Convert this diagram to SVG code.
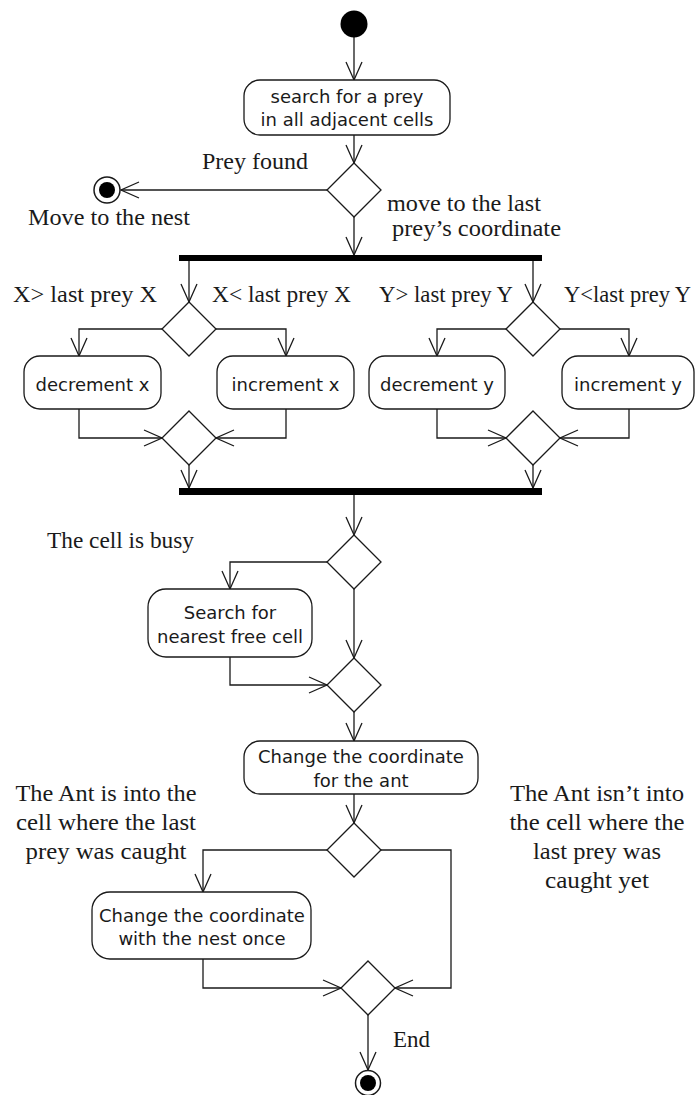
<svg xmlns="http://www.w3.org/2000/svg" width="696" height="1095" viewBox="0 0 696 1095">
  <style>
    .act { fill: #fff; stroke: #1a1a1a; stroke-width: 1.3; }
    .dec { fill: #fff; stroke: #1a1a1a; stroke-width: 1.3; }
    .bar { fill: #000; }
    .lbl { font-family: "DejaVu Sans", "Liberation Sans", sans-serif; font-size: 18px; fill: #1a1a1a; text-anchor: middle; }
    .note { font-family: "Liberation Serif", "DejaVu Serif", serif; font-size: 24px; fill: #1a1a1a; }
    .mid { text-anchor: middle; }
    .edge { fill: none; stroke: #1a1a1a; stroke-width: 1.3; marker-end: url(#open); }
  </style>
  <defs>
    <marker id="open" viewBox="-20 -10 22 20" refX="0" refY="0" markerWidth="22" markerHeight="20" markerUnits="userSpaceOnUse" orient="auto">
      <path d="M -18 -8 L 0 0 L -18 8" fill="none" stroke="#1a1a1a" stroke-width="1.3"/>
    </marker>
  </defs>
  <rect width="696" height="1095" fill="#fff"/>

  <!-- connectors -->
  <g id="edges">
    <path class="edge" d="M 354 37 L 354 80"/>
    <path class="edge" d="M 354 135 L 354 163"/>
    <path class="edge" d="M 327 190 L 121 190"/>
    <path class="edge" d="M 354 217 L 354 255"/>
    <!-- X branch -->
    <path class="edge" d="M 189 261 L 189 302"/>
    <path class="edge" d="M 162 329 L 79 329 L 79 356"/>
    <path class="edge" d="M 216 329 L 286 329 L 286 356"/>
    <path class="edge" d="M 79 409 L 79 438 L 162 438"/>
    <path class="edge" d="M 286 409 L 286 438 L 216 438"/>
    <path class="edge" d="M 189 465 L 189 488"/>
    <!-- Y branch -->
    <path class="edge" d="M 533 261 L 533 302"/>
    <path class="edge" d="M 506 329 L 437 329 L 437 356"/>
    <path class="edge" d="M 560 329 L 629 329 L 629 356"/>
    <path class="edge" d="M 437 409 L 437 438 L 506 438"/>
    <path class="edge" d="M 629 409 L 629 438 L 560 438"/>
    <path class="edge" d="M 533 465 L 533 488"/>
    <!-- busy cell check -->
    <path class="edge" d="M 354 495 L 354 535"/>
    <path class="edge" d="M 327 562 L 230 562 L 230 589"/>
    <path class="edge" d="M 354 589 L 354 658"/>
    <path class="edge" d="M 230 657 L 230 685 L 327 685"/>
    <path class="edge" d="M 354 712 L 354 741"/>
    <!-- final check -->
    <path class="edge" d="M 354 794 L 354 823"/>
    <path class="edge" d="M 327 850 L 203 850 L 203 892"/>
    <path class="edge" d="M 381 850 L 451 850 L 451 988 L 395 988"/>
    <path class="edge" d="M 203 959 L 203 988 L 341 988"/>
    <path class="edge" d="M 368 1015 L 368 1070"/>
  </g>

  <g id="start"><circle cx="354" cy="24" r="13.5" fill="#000"/></g>

  <g id="search">
    <rect class="act" x="244" y="80" width="206" height="55" rx="16"/>
    <text class="lbl" x="347" y="103">search for a prey</text>
    <text class="lbl" x="347" y="126">in all adjacent cells</text>
  </g>

  <g id="preyCheck"><polygon class="dec" points="354,163 381,190 354,217 327,190"/></g>

  <g id="nestEnd">
    <circle cx="107" cy="190" r="13" fill="#fff" stroke="#1a1a1a" stroke-width="1.5"/>
    <circle cx="107" cy="190" r="8" fill="#000"/>
  </g>

  <g id="labels">
    <text class="note" x="202" y="169" textLength="106" lengthAdjust="spacingAndGlyphs">Prey found</text>
    <text class="note" x="28" y="225" textLength="162" lengthAdjust="spacingAndGlyphs">Move to the nest</text>
    <text class="note" x="387" y="211" textLength="154" lengthAdjust="spacingAndGlyphs">move to the last</text>
    <text class="note" x="392" y="236" textLength="169" lengthAdjust="spacingAndGlyphs">prey’s coordinate</text>
    <text class="note" x="13" y="302" textLength="144" lengthAdjust="spacingAndGlyphs">X&gt;  last prey X</text>
    <text class="note" x="212" y="302" textLength="139" lengthAdjust="spacingAndGlyphs">X&lt; last prey X</text>
    <text class="note" x="379" y="302" textLength="134" lengthAdjust="spacingAndGlyphs">Y&gt; last prey Y</text>
    <text class="note" x="564" y="302" style="font-size:22.5px" textLength="127" lengthAdjust="spacingAndGlyphs">Y&lt;last prey Y</text>
    <text class="note" x="47" y="548" textLength="147" lengthAdjust="spacingAndGlyphs">The cell is busy</text>
    <text class="note mid" x="106" y="801" textLength="181" lengthAdjust="spacingAndGlyphs">The Ant is into the</text>
    <text class="note mid" x="106" y="830" textLength="180" lengthAdjust="spacingAndGlyphs">cell where the last</text>
    <text class="note mid" x="106" y="859" textLength="161" lengthAdjust="spacingAndGlyphs">prey was caught</text>
    <text class="note mid" x="597" y="801" textLength="174" lengthAdjust="spacingAndGlyphs">The Ant isn’t into</text>
    <text class="note mid" x="597" y="830" textLength="175" lengthAdjust="spacingAndGlyphs">the cell where the</text>
    <text class="note mid" x="597" y="859" textLength="128" lengthAdjust="spacingAndGlyphs">last prey was</text>
    <text class="note mid" x="597" y="888" textLength="104" lengthAdjust="spacingAndGlyphs">caught yet</text>
    <text class="note" x="393" y="1047" textLength="37" lengthAdjust="spacingAndGlyphs">End</text>
  </g>

  <g id="fork"><rect class="bar" x="179" y="255" width="363" height="6"/></g>

  <g id="xCheck"><polygon class="dec" points="189,302 216,329 189,356 162,329"/></g>
  <g id="decX">
    <rect class="act" x="24" y="356" width="137" height="53" rx="16"/>
    <text class="lbl" x="92.5" y="391">decrement x</text>
  </g>
  <g id="incX">
    <rect class="act" x="217" y="356" width="137" height="53" rx="16"/>
    <text class="lbl" x="285.5" y="391">increment x</text>
  </g>
  <g id="xMerge"><polygon class="dec" points="189,411 216,438 189,465 162,438"/></g>

  <g id="yCheck"><polygon class="dec" points="533,302 560,329 533,356 506,329"/></g>
  <g id="decY">
    <rect class="act" x="369" y="356" width="136" height="53" rx="16"/>
    <text class="lbl" x="437" y="391">decrement y</text>
  </g>
  <g id="incY">
    <rect class="act" x="562" y="356" width="132" height="53" rx="16"/>
    <text class="lbl" x="628" y="391">increment y</text>
  </g>
  <g id="yMerge"><polygon class="dec" points="533,411 560,438 533,465 506,438"/></g>

  <g id="join"><rect class="bar" x="179" y="488" width="363" height="7"/></g>

  <g id="busyCheck"><polygon class="dec" points="354,535 381,562 354,589 327,562"/></g>
  <g id="freeCell">
    <rect class="act" x="148" y="589" width="164" height="68" rx="18"/>
    <text class="lbl" x="230" y="619">Search for</text>
    <text class="lbl" x="230" y="643">nearest free cell</text>
  </g>
  <g id="busyMerge"><polygon class="dec" points="354,658 381,685 354,712 327,685"/></g>

  <g id="changeAnt">
    <rect class="act" x="244" y="741" width="234" height="53" rx="16"/>
    <text class="lbl" x="361" y="763">Change the coordinate</text>
    <text class="lbl" x="361" y="787">for the ant</text>
  </g>

  <g id="caughtCheck"><polygon class="dec" points="354,823 381,850 354,877 327,850"/></g>
  <g id="changeNest">
    <rect class="act" x="92" y="892" width="219" height="67" rx="18"/>
    <text class="lbl" x="202" y="922">Change the coordinate</text>
    <text class="lbl" x="202" y="945">with the nest once</text>
  </g>
  <g id="endMerge"><polygon class="dec" points="368,961 395,988 368,1015 341,988"/></g>

  <g id="final">
    <circle cx="368" cy="1083" r="12.5" fill="#fff" stroke="#1a1a1a" stroke-width="1.5"/>
    <circle cx="368" cy="1083" r="8" fill="#000"/>
  </g>
</svg>
